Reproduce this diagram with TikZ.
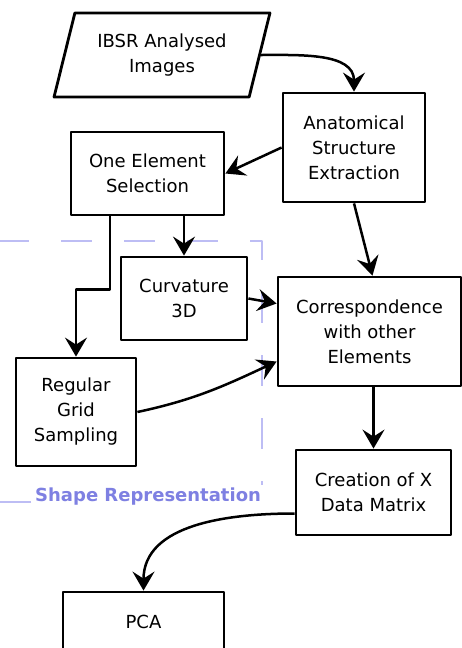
\documentclass[tikz,border=0pt]{standalone}
\usepackage{fontspec}
\setmainfont{DejaVu Sans}
\usetikzlibrary{arrows.meta,shapes.geometric}
\definecolor{grpline}{HTML}{BDBDF4}
\definecolor{grptext}{HTML}{7E80E2}
\tikzset{
	box/.style={draw, line width=2.8pt, fill=white, align=center, inner sep=0pt},
	iobox/.style={box, trapezium, trapezium left angle=70, trapezium right angle=110, trapezium stretches=true},
	flow/.style={-{Stealth[length=19pt,width=22pt,inset=7pt]}, line width=2.5pt},
}
\begin{document}
\begin{tikzpicture}[x=1pt, y=1pt, font=\fontsize{18}{25}\selectfont, line join=round]
			\useasboundingbox (0,0) rectangle (462,-648);
			\clip (0,0) rectangle (462,-648);
			
			% group of the shape representation
			\draw[grpline, line width=2pt, dash pattern=on 31pt off 32pt, dash phase=30pt]
			(-35,-241) -- (262,-241) -- (262,-502) -- (-35,-502);
			\node[fill=white, inner sep=3pt, anchor=west, text=grptext, font=\fontsize{18}{20}\selectfont\bfseries] (grp) at (32,-497) {Shape Representation};
			
			\node[iobox, minimum width=216pt, minimum height=84pt] (ibsr) at (162,-55) {IBSR Analysed\\Images};
			\node[box, minimum width=142pt, minimum height=109pt] (anat) at (354,-147.5) {Anatomical\\Structure\\Extraction};
			\node[box, minimum width=153pt, minimum height=83pt] (one) at (147.5,-173.5) {One Element\\Selection};
			\node[box, minimum width=126pt, minimum height=83pt] (curv) at (184,-298.5) {Curvature\\3D};
			\node[box, minimum width=183pt, minimum height=109pt] (corr) at (369.5,-331.5) {Correspondence\\with other\\Elements};
			\node[box, minimum width=120pt, minimum height=108pt] (reg) at (76,-412) {Regular\\Grid\\Sampling};
			\node[box, minimum width=155pt, minimum height=85pt] (cre) at (373.5,-492.5) {Creation of X\\Data Matrix};
			\node[box, minimum width=161pt, minimum height=60pt] (pca) at (143.5,-622) {PCA};
			
			\draw[flow] (ibsr.east) to[out=0, in=90] (anat.north);
			\draw[flow] (anat.west) -- (one.east);
			\draw[flow] (curv.north |- one.south) -- (curv.north);
			\draw[flow] ([xshift=-37.5pt]one.south) -- ++(0,-73) -| (reg.north);
			\draw[flow] (anat.south) -- ([xshift=3pt]corr.north);
			\draw[flow] (curv.east) -- ([yshift=28pt]corr.west);
			\draw[flow] (reg.east) to[out=12, in=205] ([yshift=-30pt]corr.west);
			\draw[flow] (cre.north |- corr.south) -- (cre.north);
			\draw[flow] ([yshift=-21pt]cre.west) to[out=180, in=90] (pca.north);
	\end{tikzpicture}
\end{document}
